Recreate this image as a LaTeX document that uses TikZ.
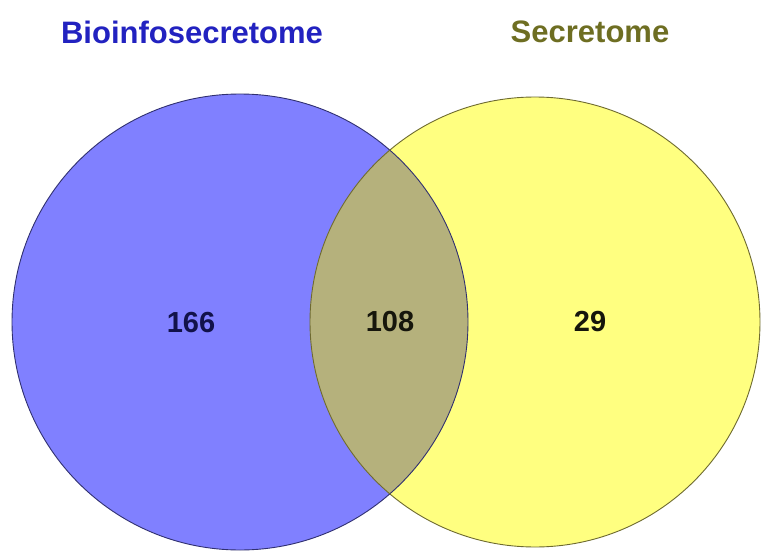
\documentclass[tikz,border=0pt]{standalone}
\usepackage{fontspec}
\setmainfont{Liberation Sans}
\definecolor{blueset}{HTML}{8080FF}
\definecolor{yellowset}{HTML}{FFFF80}
\definecolor{overlapset}{HTML}{B5B17C}
\definecolor{bluetitle}{HTML}{2222C0}
\definecolor{olivetitle}{HTML}{6E6E22}
\definecolor{bluerim}{HTML}{303070}
\definecolor{olivrim}{HTML}{6E6A30}
\definecolor{navynum}{HTML}{12124A}
\definecolor{darknum}{HTML}{16160C}
\begin{document}
\begin{tikzpicture}[x=1pt,y=-1pt,
  settitle/.style={font=\bfseries\fontsize{31}{36}\selectfont},
  countlabel/.style={font=\bfseries\fontsize{29}{34}\selectfont}]
\useasboundingbox (0,0) rectangle (761,551);
\fill[white] (0,0) rectangle (761,551);
\coordinate (cl) at (240,322);
\coordinate (cr) at (535,322);
% fills
\fill[blueset] (cl) circle[radius=228];
\fill[yellowset] (cr) circle[radius=225];
\begin{scope}
  \clip (cl) circle[radius=228];
  \fill[overlapset] (cr) circle[radius=225];
\end{scope}
% rims
\draw[bluerim, line width=0.9pt] (cl) circle[radius=228];
\draw[olivrim, line width=0.9pt] (cr) circle[radius=225];
% titles
\node[settitle, text=bluetitle] (tl) at (192,32) {Bioinfosecretome};
\node[settitle, text=olivetitle] (tr) at (590,32) {Secretome};
% counts
\node[countlabel, text=navynum] (n1) at (191,323) {166};
\node[countlabel, text=darknum] (n2) at (390,322) {108};
\node[countlabel, text=darknum] (n3) at (590,322) {29};
\end{tikzpicture}
\end{document}
